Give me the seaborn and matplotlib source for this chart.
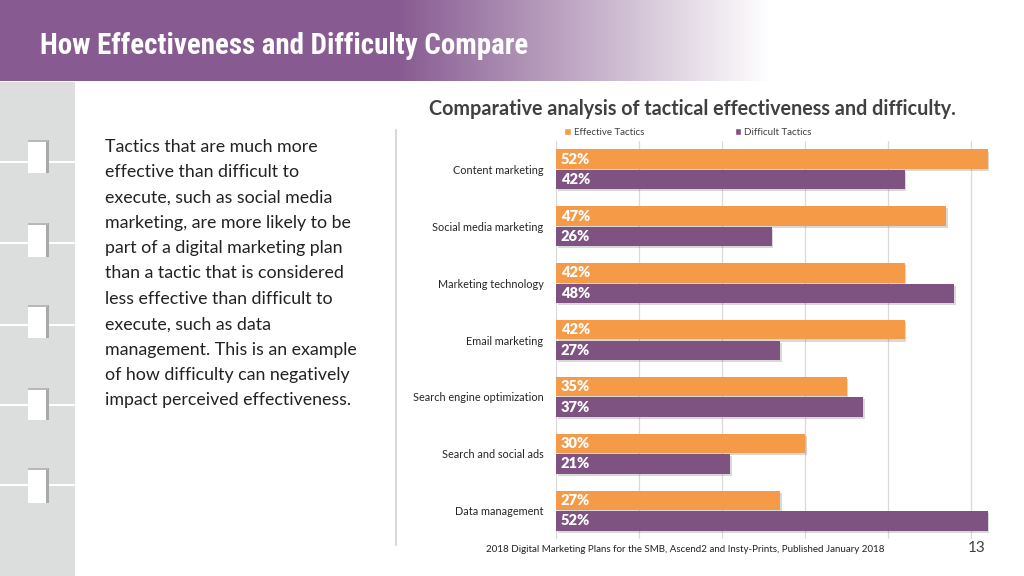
import numpy as np
import pandas as pd
import matplotlib
matplotlib.use("Agg")
import matplotlib.pyplot as plt
import matplotlib.patheffects as pe
from matplotlib.patches import Rectangle
from matplotlib import font_manager as fm
import seaborn as sns

# ---------------- data ----------------
categories = ["Content marketing", "Social media marketing", "Marketing technology",
              "Email marketing", "Search engine optimization", "Search and social ads",
              "Data management"]
effective = [0.52, 0.47, 0.42, 0.42, 0.35, 0.30, 0.27]
difficult = [0.42, 0.26, 0.48, 0.27, 0.37, 0.21, 0.52]
series_names = ["Effective Tactics", "Difficult Tactics"]

title = "How Effectiveness and Difficulty Compare"
chart_title = "Comparative analysis of tactical effectiveness and difficulty."
body_lines = ["Tactics that are much more",
              "effective than difficult to",
              "execute, such as social media",
              "marketing, are more likely to be",
              "part of a digital marketing plan",
              "than a tactic that is considered",
              "less effective than difficult to",
              "execute, such as data",
              "management. This is an example",
              "of how difficulty can negatively",
              "impact perceived effectiveness."]
footer = "2018 Digital Marketing Plans for the SMB, Ascend2 and Insty-Prints, Published January 2018"
page_no = "13"

df = pd.DataFrame({
    "Tactic": categories * 2,
    "Share": effective + difficult,
    "Series": [series_names[0]] * len(categories) + [series_names[1]] * len(categories),
})

ORANGE = "#F59B47"
PURPLE = "#7E5281"
HEADER = (135 / 255, 91 / 255, 145 / 255)

sns.set_theme(style="white")
plt.rcParams["font.family"] = ["Lato", "DejaVu Sans"]


def pick_family(cands):
    names = {f.name for f in fm.fontManager.ttflist}
    for c in cands:
        if c in names:
            return c
    return "Liberation Sans"


title_family = pick_family(["Liberation Sans Narrow", "Roboto Condensed", "Arial Narrow",
                            "DejaVu Sans Condensed", "Roboto", "Liberation Sans"])

W, H = 1024, 576
fig = plt.figure(figsize=(W / 100, H / 100), dpi=100)
fig.patch.set_facecolor("white")

# ---------------- background / decoration ----------------
bg = fig.add_axes([0, 0, 1, 1])
bg.set_xlim(0, W)
bg.set_ylim(H, 0)
bg.axis("off")

# header gradient
xs = np.arange(W)
alpha = np.clip((770 - xs) / (770 - 400), 0, 1)
grad = np.ones((1, W, 4))
grad[0, :, 0] = HEADER[0]
grad[0, :, 1] = HEADER[1]
grad[0, :, 2] = HEADER[2]
grad[0, :, 3] = alpha
bg.imshow(grad, extent=(0, W, 81, 0), aspect="auto", zorder=1)
ttl = bg.text(40, 46, title, color="white", fontsize=20, fontweight="bold",
              family=[title_family, "DejaVu Sans"], va="center", ha="left", zorder=3)
fig.canvas.draw()
tw = ttl.get_window_extent(fig.canvas.get_renderer()).width
ttl.set_fontsize(min(22.5, 20 * 488 / tw))

# left grey tiles
bg.add_patch(Rectangle((0, 82), 75, H - 82, facecolor="#DCDEDE", edgecolor="none", zorder=1))
for gy in [162, 243, 325, 405, 485]:
    bg.add_patch(Rectangle((0, gy - 1), 75, 2.2, facecolor="white", edgecolor="none", zorder=2))
for ny0, ny1 in [(140, 173), (223, 257), (305, 338), (388, 420), (468, 503)]:
    bg.add_patch(Rectangle((28, ny0), 20, ny1 - ny0, facecolor="#FFFFFF",
                           edgecolor="none", zorder=3))
    bg.add_patch(Rectangle((46, ny0), 2.5, ny1 - ny0, facecolor="#A9A9A9",
                           edgecolor="none", zorder=4))
    bg.add_patch(Rectangle((28, ny0), 20, 2, facecolor="#B8B8B8",
                           edgecolor="none", zorder=4))

# paragraph
for i, line in enumerate(body_lines):
    bg.text(105, 146.5 + i * 25.4, line, fontsize=12.8, color="#222222",
            va="center", ha="left", zorder=3)

# divider line
bg.plot([396, 396], [130, 545], color="#D9D9D9", lw=1.5, zorder=2)

# chart title and footer
bg.text(692, 109, chart_title, fontsize=14.2, fontweight="bold", color="#404040",
        ha="center", va="center", zorder=3)
bg.text(685, 549, footer, fontsize=7, color="#222222", ha="center", va="center", zorder=3)
bg.text(977, 548, page_no, fontsize=11, color="#404040", ha="center", va="center", zorder=3)

# ---------------- bar chart ----------------
ax = fig.add_axes([556 / W, 37 / H, 0.54 * 830 / W, 398 / H])
ax.set_facecolor("none")
sns.barplot(data=df, y="Tactic", x="Share", hue="Series", hue_order=series_names,
            order=categories, palette=[ORANGE, PURPLE], orient="h",
            width=0.72, gap=0.05, ax=ax, saturation=1, legend=True, zorder=3)

shadow = [pe.SimplePatchShadow(offset=(1.2, -1.5), alpha=0.22, shadow_rgbFace="#555555"),
          pe.Normal()]
for cont in ax.containers:
    for bar in cont:
        bar.set_path_effects(shadow)
        bar.set_edgecolor("none")
        yc = bar.get_y() + bar.get_height() / 2
        ax.text(0.006, yc, f"{bar.get_width() * 100:.0f}%", color="white",
                fontsize=10.5, fontweight="heavy", va="center", ha="left", zorder=5)

ax.set_xlim(0, 0.54)
ax.set_xticks(np.arange(0, 0.51, 0.1))
ax.set_xticklabels([])
ax.grid(axis="x", color="#D9D9D9", lw=0.9, zorder=0)
ax.grid(axis="y", visible=False)
ax.set_axisbelow(True)
for s in ax.spines.values():
    s.set_visible(False)
ax.tick_params(axis="y", length=0, pad=9, labelsize=7.8, labelcolor="#262626")
ax.tick_params(axis="x", length=0)
ax.set_xlabel("")
ax.set_ylabel("")

handles, labels = ax.get_legend_handles_labels()
ax.get_legend().remove()
fig.legend(handles, labels, loc="center left", bbox_to_anchor=(564 / W, 1 - 132.5 / H),
           ncol=2, frameon=False, fontsize=7, handlelength=0.7, handleheight=0.7,
           handletextpad=0.3, columnspacing=9.3, labelcolor="#404040",
           borderaxespad=0, borderpad=0)

fig.savefig("out.png", dpi=100, facecolor="white")
